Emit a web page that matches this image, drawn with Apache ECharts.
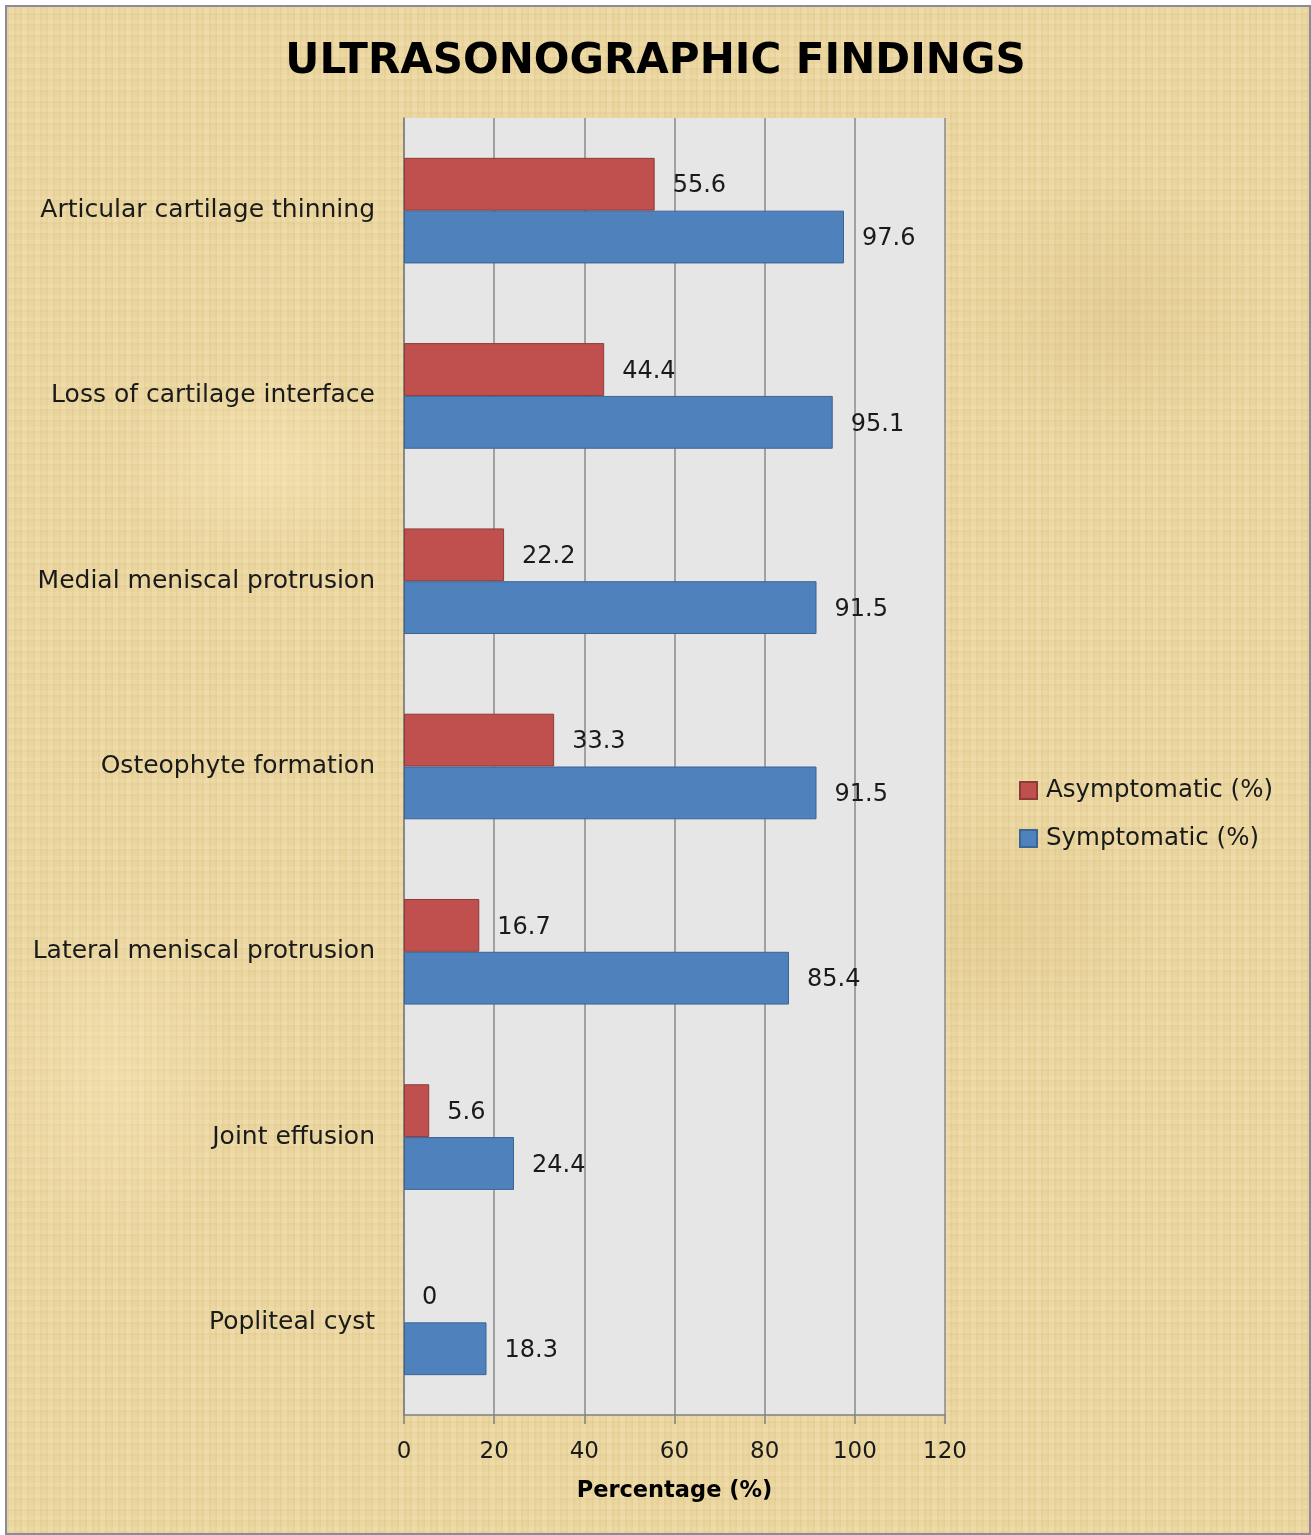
<!DOCTYPE html>
<html>
<head>
<meta charset="utf-8">
<script src="https://cdn.jsdelivr.net/npm/echarts@6/dist/echarts.min.js"></script>
<style>
  html, body { margin: 0; padding: 0; background: #ffffff; }
  #frame {
    position: absolute; left: 5px; top: 5px; width: 1302px; height: 1526px;
    border: 2px solid #8a8a98;
    background-color: #eAd59e;
    background-image:
      radial-gradient(ellipse 220px 140px at 20% 30%, rgba(255,240,200,0.35), rgba(255,240,200,0) 70%),
      radial-gradient(ellipse 260px 180px at 75% 60%, rgba(210,180,110,0.22), rgba(210,180,110,0) 70%),
      radial-gradient(ellipse 200px 160px at 40% 85%, rgba(255,240,200,0.3), rgba(255,240,200,0) 70%),
      radial-gradient(ellipse 240px 200px at 85% 20%, rgba(200,170,100,0.18), rgba(200,170,100,0) 70%),
      radial-gradient(ellipse 180px 260px at 8% 70%, rgba(255,240,200,0.3), rgba(255,240,200,0) 70%),
      repeating-linear-gradient(90deg, rgba(190,160,90,0.09) 0px, rgba(190,160,90,0.09) 2px, rgba(255,245,215,0.10) 2px, rgba(255,245,215,0.10) 7px, rgba(180,150,80,0.07) 7px, rgba(180,150,80,0.07) 9px, rgba(255,245,215,0) 9px, rgba(255,245,215,0) 13px),
      repeating-linear-gradient(0deg, rgba(190,160,90,0.07) 0px, rgba(190,160,90,0.07) 2px, rgba(255,245,215,0.10) 2px, rgba(255,245,215,0.10) 6px, rgba(255,245,215,0) 6px, rgba(255,245,215,0) 11px);
  }
  #chart { position: absolute; left: 0; top: 0; width: 1311px; height: 1535px; }
</style>
</head>
<body>
<div id="frame"></div>
<div id="chart"></div>
<script>
// Ultrasonographic findings by group, percentage of patients
const categories = [
  'Articular cartilage thinning',
  'Loss of cartilage interface',
  'Medial meniscal protrusion',
  'Osteophyte formation',
  'Lateral meniscal protrusion',
  'Joint effusion',
  'Popliteal cyst'
];
const asymptomatic = [55.6, 44.4, 22.2, 33.3, 16.7, 5.6, 0];
const symptomatic = [97.6, 95.1, 91.5, 91.5, 85.4, 24.4, 18.3];
const xTicks = [0, 20, 40, 60, 80, 100, 120];

const FONT = '"DejaVu Sans", Verdana, sans-serif';
const TEXT = '#1a1a1a';
const chart = echarts.init(document.getElementById('chart'), null, { renderer: 'canvas' });

const valueLabel = {
  show: true,
  position: 'right',
  distance: 18,
  offset: [0, 2],
  color: TEXT,
  fontFamily: FONT,
  fontSize: 24
};

// zero-length bars get no outline so nothing is drawn for them
const toItems = (values) => values.map(v => (v === 0 ? { value: v, itemStyle: { borderWidth: 0 } } : v));

chart.setOption({
  backgroundColor: 'transparent',
  animation: false,
  title: {
    text: 'ULTRASONOGRAPHIC FINDINGS',
    left: 'center',
    top: 33,
    textStyle: { fontFamily: FONT, fontWeight: 'bold', fontSize: 42, color: '#000000', lineHeight: 48 }
  },
  legend: {
    orient: 'vertical',
    left: 1019,
    top: 778,
    padding: 0,
    itemWidth: 17,
    itemHeight: 17,
    itemGap: 23,
    icon: 'rect',
    textStyle: { fontFamily: FONT, fontSize: 24.5, lineHeight: 25, color: TEXT, padding: [0, 0, 0, 4] },
    data: ['Asymptomatic (%)', 'Symptomatic (%)']
  },
  grid: {
    left: 404, right: 366, top: 118, bottom: 120,
    show: true,
    backgroundColor: '#e6e6e6',
    borderWidth: 0
  },
  xAxis: {
    type: 'value',
    min: xTicks[0],
    max: xTicks[xTicks.length - 1],
    interval: xTicks[1] - xTicks[0],
    name: 'Percentage (%)',
    nameLocation: 'middle',
    nameGap: 65,
    nameTextStyle: { fontFamily: FONT, fontWeight: 'bold', fontSize: 22.5, color: '#000000' },
    axisLine: { show: true, lineStyle: { color: '#808080', width: 1.5 } },
    axisTick: { show: true, length: 9, lineStyle: { color: '#808080', width: 1.5 } },
    axisLabel: { margin: 26, fontFamily: FONT, fontSize: 23, color: TEXT },
    splitLine: { show: true, lineStyle: { color: '#8a8a8a', width: 1.5 } }
  },
  yAxis: {
    type: 'category',
    inverse: true,
    data: categories,
    axisLine: { show: true, lineStyle: { color: '#808080', width: 1.5 } },
    axisTick: { show: false },
    axisLabel: { margin: 29, fontFamily: FONT, fontSize: 25, color: TEXT, padding: [2, 0, 0, 0] }
  },
  series: [
    {
      name: 'Asymptomatic (%)',
      type: 'bar',
      data: toItems(asymptomatic),
      barGap: '0%',
      barCategoryGap: '43%',
      itemStyle: { color: '#c0504d', borderColor: '#8d3b39', borderWidth: 1 },
      label: valueLabel
    },
    {
      name: 'Symptomatic (%)',
      type: 'bar',
      data: toItems(symptomatic),
      barGap: '0%',
      barCategoryGap: '43%',
      itemStyle: { color: '#4f81bd', borderColor: '#3b6594', borderWidth: 1 },
      label: valueLabel
    }
  ]
});
</script>
</body>
</html>
